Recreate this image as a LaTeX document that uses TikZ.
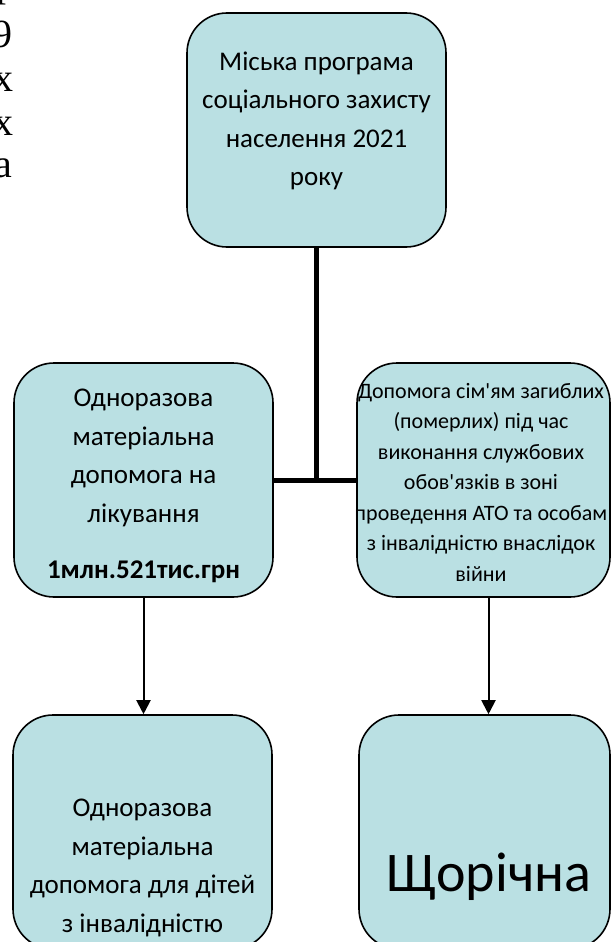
\documentclass[tikz,border=0pt]{standalone}
\usepackage{fontspec}
\setmainfont{Carlito}[Ligatures=TeXOff]
\newfontfamily\cutfont{Liberation Serif}
\usetikzlibrary{arrows.meta}
\definecolor{boxfill}{RGB}{186,224,227}
\begin{document}
\begin{tikzpicture}[x=1pt,y=-1pt,
  box/.style={draw=black, line width=1.6pt, fill=boxfill, rounded corners=40pt, inner sep=0pt},
  txt/.style={align=center, inner sep=0pt},
  bigtxt/.style={txt, font=\fontsize{27}{38.5}\selectfont},
  smalltxt/.style={txt, font=\fontsize{22}{30.5}\selectfont},
  hugetxt/.style={inner sep=0pt, anchor=base, font=\fontsize{56}{60}\selectfont},
  link/.style={line width=5pt},
  arr/.style={line width=2pt, -{Triangle[width=14pt,length=14pt]}},
  cut/.style={font=\cutfont\fontsize{40}{44}\selectfont, anchor=base east, inner sep=0pt}]
\useasboundingbox (0,0) rectangle (611,942);
\clip (0,0) rectangle (611,942);

% cut-off letters of the page text at the left edge
\node[cut] (c1) at (17,-3) {р};
\node[cut] (c2) at (13,48) {9};
\node[cut] (c3) at (13.5,92) {х};
\node[cut] (c4) at (13.5,135) {х};
\node[cut] (c5) at (12.5,177) {а};

% boxes
\node[box, minimum width=259pt, minimum height=234pt] (top) at (316.5,130) {};
\node[box, minimum width=259pt, minimum height=234pt] (lb) at (143.5,480) {};
\node[box, minimum width=253pt, minimum height=234pt] (rb) at (483.5,480) {};
\node[box, minimum width=259pt, minimum height=234pt] (blb) at (142.5,832) {};
\node[box, minimum width=251pt, minimum height=234pt] (brb) at (484.5,832) {};

% texts
\node[bigtxt] (toptxt) at (316.5,121) {Міська програма\\соціального захисту\\населення 2021\\року};
\node[bigtxt] (lbtxt) at (143.5,486) {Одноразова\\матеріальна\\допомога на\\лікування\\[18pt]\textbf{1млн.521тис.грн}};
\node[smalltxt] (rbtxt) at (481,482) {Допомога сім'ям загиблих\\(померлих) під час\\виконання службових\\обов'язків в зоні\\проведення АТО та особам\\з інвалідністю внаслідок\\війни};
\node[bigtxt] (blbtxt) at (142.5,868) {Одноразова\\матеріальна\\допомога для дітей\\з інвалідністю};
\node[hugetxt] (brbtxt) at (489,891) {Щорічна};

% connectors
\draw[link] (top.south) -- (top.south |- lb.east);
\draw[link] (lb.east) -- (rb.west);
\draw[arr] (lb.south) -- (lb.south |- blb.north);
\draw[arr] ([xshift=5pt]rb.south) -- ([xshift=5pt]rb.south |- brb.north);
\end{tikzpicture}
\end{document}
